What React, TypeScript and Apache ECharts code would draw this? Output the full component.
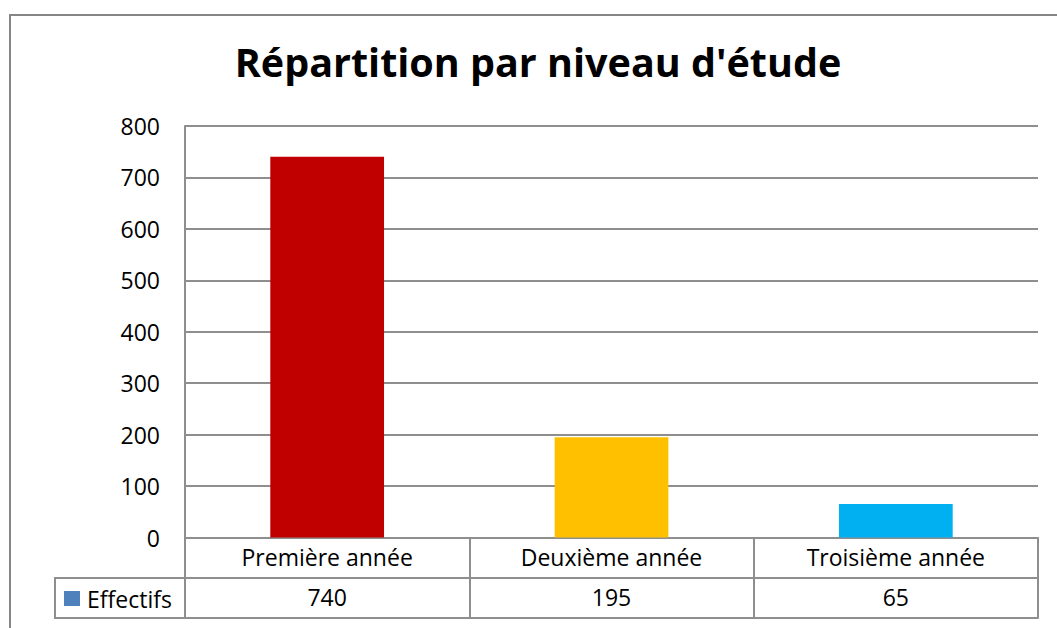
import React, { useEffect, useRef } from "react";
import * as echarts from "echarts";

const TITLE = "Répartition par niveau d'étude";
const SERIES_NAME = "Effectifs";
const categories = ["Première année", "Deuxième année", "Troisième année"];
const values = [740, 195, 65];
const barColors = ["#C00000", "#FFC000", "#00B0F0"];
const yTicks = { min: 0, max: 800, interval: 100 };

const GRAY = "#8e8e8e";
const FONT = "'Open Sans', 'DejaVu Sans', sans-serif";

export default function App() {
  const ref = useRef<HTMLDivElement>(null);
  useEffect(() => {
    document.body.style.margin = "0";
    const chart = echarts.init(ref.current!, null, { renderer: "svg" });
    chart.setOption({
      animation: false,
      backgroundColor: "#ffffff",
      textStyle: { fontFamily: FONT },
      title: {
        text: TITLE,
        left: 533,
        textAlign: "center",
        top: 37,
        textStyle: { fontFamily: FONT, fontWeight: "bold", fontSize: 39.5, color: "#000" },
      },
      legend: {
        show: true,
        left: 64,
        top: 587,
        padding: 0,
        itemWidth: 16,
        itemHeight: 15,
        icon: "rect",
        data: [SERIES_NAME],
        textStyle: { fontFamily: FONT, fontSize: 23, color: "#000", padding: [0, 0, 0, 2] },
      },
      grid: { left: 185, right: 19, top: 126, bottom: 90.5 },
      xAxis: [
        {
          type: "category",
          data: categories,
          position: "bottom",
          axisLine: { show: true, lineStyle: { color: GRAY, width: 2 } },
          axisTick: { show: true, length: 80, lineStyle: { color: GRAY, width: 2 } },
          axisLabel: { color: "#000", fontSize: 23, fontFamily: FONT, margin: 8, interval: 0 },
        },
        {
          type: "category",
          data: values.map(String),
          position: "bottom",
          offset: 40,
          axisLine: { show: true, lineStyle: { color: GRAY, width: 2 } },
          axisTick: { show: false },
          axisLabel: { color: "#000", fontSize: 23, fontFamily: FONT, margin: 8, interval: 0 },
        },
        {
          type: "category",
          data: values.map(String),
          position: "bottom",
          offset: 80,
          axisLine: { show: true, lineStyle: { color: GRAY, width: 2 } },
          axisTick: { show: false },
          axisLabel: { show: false },
        },
      ],
      yAxis: {
        type: "value",
        min: yTicks.min,
        max: yTicks.max,
        interval: yTicks.interval,
        axisLine: { show: true, lineStyle: { color: GRAY, width: 2 } },
        axisTick: { show: false },
        splitLine: { show: true, lineStyle: { color: GRAY, width: 2 } },
        axisLabel: { color: "#000", fontSize: 23, fontFamily: FONT, margin: 25 },
      },
      series: [
        {
          name: SERIES_NAME,
          type: "bar",
          barWidth: "40%",
          itemStyle: { color: "#4F81BD" },
          data: values.map((v, i) => ({ value: v, itemStyle: { color: barColors[i] } })),
        },
      ],
      graphic: [
        {
          type: "rect",
          shape: { x: 10, y: 15, width: 1200, height: 800 },
          style: { fill: "none", stroke: "#868686", lineWidth: 2 },
          silent: true,
        },
        {
          type: "polyline",
          shape: { points: [[186, 578], [55, 578], [55, 618], [186, 618]] },
          style: { fill: "none", stroke: GRAY, lineWidth: 2 },
          silent: true,
        },
      ],
    });
    return () => chart.dispose();
  }, []);
  return <div ref={ref} style={{ width: 1057, height: 628 }} />;
}
